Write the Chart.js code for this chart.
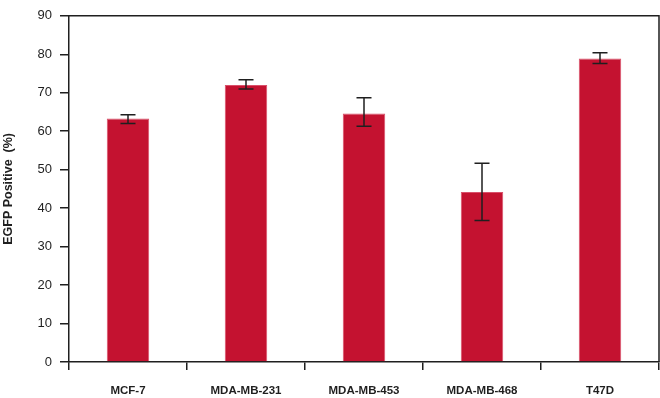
<!DOCTYPE html>
<html>
<head>
<meta charset="utf-8">
<script src="https://cdn.jsdelivr.net/npm/chart.js@4/dist/chart.umd.min.js"></script>
<style>
html,body{margin:0;padding:0;background:#fff;}
#wrap{width:660px;height:398px;position:relative;}
</style>
</head>
<body>
<div id="wrap"><canvas id="c" width="660" height="398"></canvas></div>
<script>
const categories = ['MCF-7', 'MDA-MB-231', 'MDA-MB-453', 'MDA-MB-468', 'T47D'];
const egfpPositive = [63.3, 72.0, 64.6, 44.2, 78.9];
const errorLow = [62.0, 71.0, 61.3, 36.8, 77.6];
const errorHigh = [64.3, 73.4, 68.7, 51.7, 80.4];
const yTicks = [0, 10, 20, 30, 40, 50, 60, 70, 80, 90];

const FONT = "'Liberation Sans', Arial, sans-serif";
const INK = '#1f1f1f';

const errorBarPlugin = {
  id: 'errorBars',
  afterDatasetsDraw(chart) {
    const ctx = chart.ctx;
    const meta = chart.getDatasetMeta(0);
    const y = chart.scales.y;
    ctx.save();
    ctx.strokeStyle = INK;
    ctx.lineWidth = 1.5;
    meta.data.forEach((bar, i) => {
      const x = bar.x;
      const yl = y.getPixelForValue(errorLow[i]);
      const yh = y.getPixelForValue(errorHigh[i]);
      const cap = 7.5;
      ctx.beginPath();
      ctx.moveTo(x, yl); ctx.lineTo(x, yh);
      ctx.moveTo(x - cap, yl); ctx.lineTo(x + cap, yl);
      ctx.moveTo(x - cap, yh); ctx.lineTo(x + cap, yh);
      ctx.stroke();
    });
    ctx.restore();
  }
};

const framePlugin = {
  id: 'frame',
  afterDraw(chart) {
    const a = chart.chartArea;
    const ctx = chart.ctx;
    ctx.save();
    ctx.strokeStyle = INK;
    ctx.lineWidth = 1.5;
    ctx.beginPath();
    ctx.moveTo(a.left, a.top);
    ctx.lineTo(a.right, a.top);
    ctx.lineTo(a.right, a.bottom);
    ctx.stroke();
    ctx.restore();
  }
};

new Chart(document.getElementById('c'), {
  type: 'bar',
  data: {
    labels: categories,
    datasets: [{
      data: egfpPositive,
      backgroundColor: '#C41230',
      borderColor: '#D9506A',
      borderWidth: 1,
      categoryPercentage: 1,
      barPercentage: 0.36
    }]
  },
  options: {
    responsive: false,
    animation: false,
    devicePixelRatio: 1,
    layout: { padding: { top: 8, right: 1, left: 0, bottom: 0 } },
    plugins: { legend: { display: false }, tooltip: { enabled: false } },
    scales: {
      x: {
        offset: true,
        grid: { display: true, drawOnChartArea: false, drawTicks: true, tickLength: 8, color: INK, lineWidth: 1.5, offset: true },
        border: { display: true, color: INK, width: 1.5 },
        ticks: { color: INK, padding: 14, font: { family: FONT, size: 11.5, weight: 'bold' }, maxRotation: 0 },
        afterFit(scale) { scale.height = 36; }
      },
      y: {
        min: 0, max: 90,
        afterBuildTicks(scale) { scale.ticks = yTicks.map(v => ({ value: v })); },
        grid: { display: true, drawOnChartArea: false, drawTicks: true, tickLength: 9, color: INK, lineWidth: 1.5 },
        border: { display: true, color: INK, width: 1.5 },
        ticks: { color: INK, padding: 8, font: { family: FONT, size: 13 } },
        title: { display: true, text: 'EGFP Positive  (%)', color: INK, padding: { top: 1, bottom: 0 }, font: { family: FONT, size: 12.5, weight: 'bold' } },
        afterFit(scale) { scale.width = 69; }
      }
    }
  },
  plugins: [errorBarPlugin, framePlugin]
});
</script>
</body>
</html>
